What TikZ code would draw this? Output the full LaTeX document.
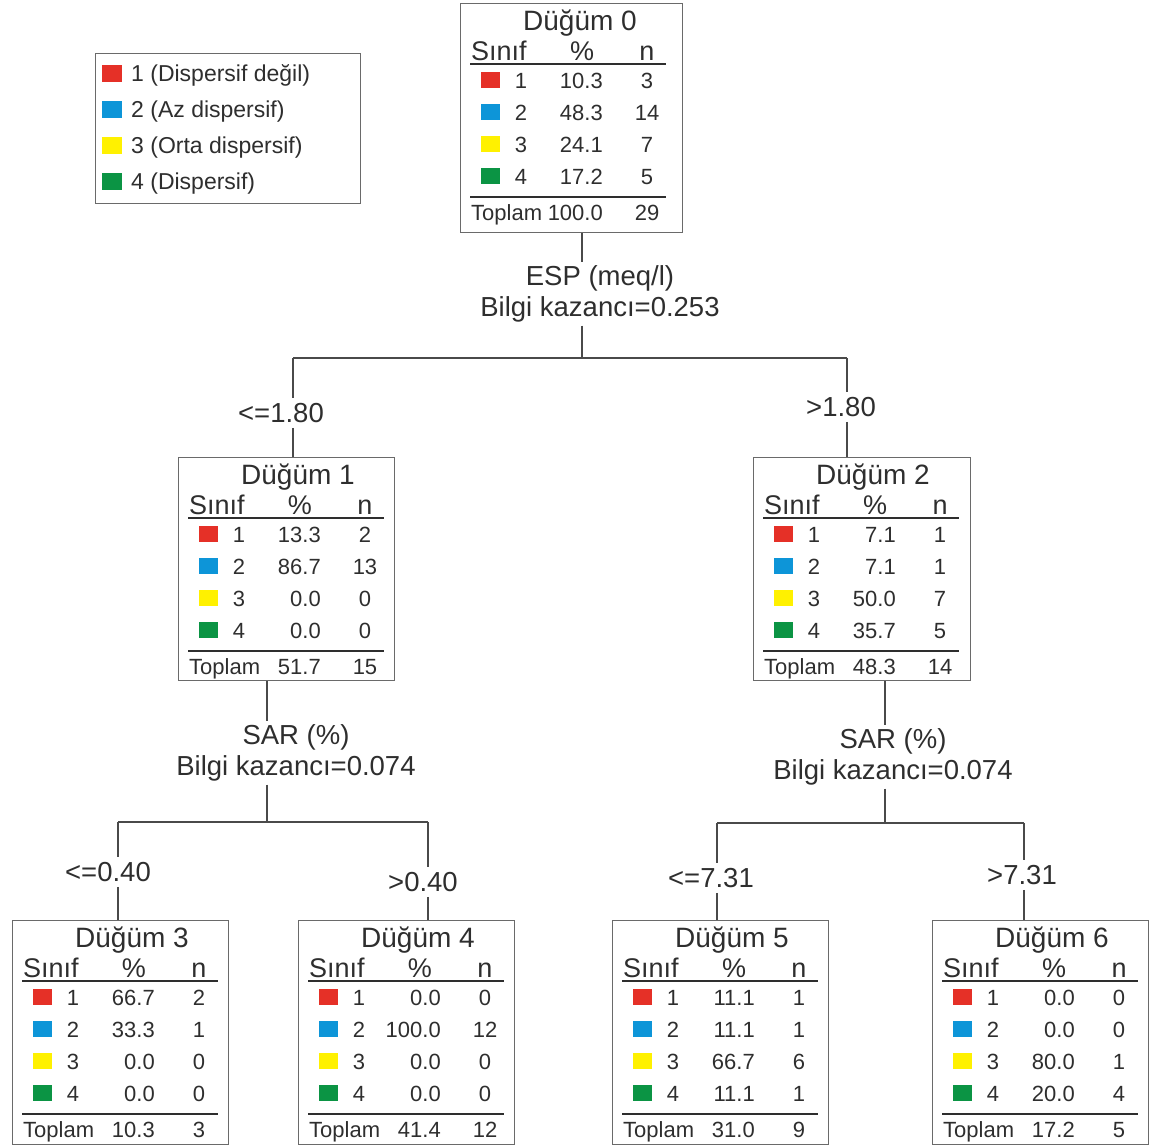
\documentclass[tikz,border=0pt]{standalone}
\usepackage{fontspec}
\setmainfont{Liberation Sans}

\definecolor{txt}{HTML}{2E2E2E}
\definecolor{boxgray}{HTML}{6A6A6A}
\definecolor{linegray}{HTML}{4A4A4A}
\definecolor{cls1}{HTML}{E53027}
\definecolor{cls2}{HTML}{0D95D8}
\definecolor{cls3}{HTML}{FFF100}
\definecolor{cls4}{HTML}{0B9444}

\tikzset{
  boxline/.style={draw=boxgray, line width=1.3pt, inner sep=0pt},
  branch/.style={draw=linegray, line width=1.3pt},
  rule/.style={draw=txt, line width=1.2pt},
  splitlabel/.style={align=center, inner sep=3pt, font=\fontsize{27.5}{31}\selectfont},
  edgelabel/.style={inner sep=5pt, font=\fontsize{27.5}{31}\selectfont},
  titletext/.style={inner sep=1pt, font=\fontsize{28}{32}\selectfont},
  headtext/.style={inner sep=1pt, font=\fontsize{27}{31}\selectfont},
  rowtext/.style={inner sep=1pt, font=\fontsize{22}{26}\selectfont},
  legendtext/.style={inner sep=1pt, font=\fontsize{23}{27}\selectfont},
}

% node box: name, top-left, width, height, number, rows (pct/n), total pct, total n
\newcommand{\dugum}[8]{%
  \node[boxline, anchor=north west, minimum width=#3, minimum height=#4] (#1) at (#2) {};
  \begin{scope}[shift={(#2)}]
    \node[titletext, anchor=base] (#1-title) at (120,27) {Düğüm #5};
    \node[headtext, anchor=base west] (#1-cls) at (10,57) {Sınıf};
    \node[headtext, anchor=base] (#1-pct) at (122,57) {\%};
    \node[headtext, anchor=base] (#1-n) at (187,57) {n};
    \draw[rule] (10,61) -- (206,61);
    \foreach \p/\m [count=\i] in {#6} {
      \pgfmathsetmacro\ry{77+32*(\i-1)}
      \fill[cls\i] (21,\ry-8) rectangle (40,\ry+8);
      \node[rowtext, anchor=base] (#1-k\i) at (61,\ry+8) {\i};
      \node[rowtext, anchor=base east] (#1-p\i) at (144,\ry+8) {\p};
      \node[rowtext, anchor=base] (#1-m\i) at (187,\ry+8) {\m};
    }
    \draw[rule] (10,194) -- (206,194);
    \node[rowtext, anchor=base west] (#1-tot) at (10,217) {Toplam};
    \node[rowtext, anchor=base east] (#1-totp) at (144,217) {#7};
    \node[rowtext, anchor=base] (#1-totn) at (187,217) {#8};
  \end{scope}
}

\begin{document}
\begin{tikzpicture}[x=1pt, y=-1pt, text=txt]
    \useasboundingbox (0,0) rectangle (1152,1146);

    % Legend
    \node[boxline, anchor=north west, minimum width=265pt, minimum height=150pt] (legend) at (95,53) {};
    \foreach \lab [count=\i] in {1 (Dispersif değil), 2 (Az dispersif), 3 (Orta dispersif), 4 (Dispersif)} {
      \pgfmathsetmacro\ly{73+36*(\i-1)}
      \fill[cls\i] (102,\ly-8) rectangle (122,\ly+9);
      \node[legendtext, anchor=base west] (leg\i) at (130,\ly+8) {\lab};
    }

    % Root
    \dugum{n0}{460,3}{222pt}{229pt}{0}{10.3/3,48.3/14,24.1/7,17.2/5}{100.0}{29}

    % ESP split
    \coordinate (j0) at (582,358);
    \coordinate (b1) at (293,358);
    \coordinate (b2) at (847,358);
    \node[splitlabel] (s0) at (600,294) {ESP (meq/l)\\Bilgi kazancı=0.253};
    \draw[branch] (n0.south -| j0) -- (s0.north -| j0);
    \draw[branch] (s0.south -| j0) -- (j0);
    \draw[branch] (b1) -- (b2);

    \node[edgelabel] (e1) at (281,413) {<=1.80};
    \node[edgelabel] (e2) at (841,407) {>1.80};

    \dugum{n1}{178,457}{216pt}{223pt}{1}{13.3/2,86.7/13,0.0/0,0.0/0}{51.7}{15}
    \dugum{n2}{753,457}{217pt}{223pt}{2}{7.1/1,7.1/1,50.0/7,35.7/5}{48.3}{14}

    \draw[branch] (b1) -- (b1 |- e1.north);
    \draw[branch] (e1.south -| b1) -- (n1.north -| b1);
    \draw[branch] (b2) -- (b2 |- e2.north);
    \draw[branch] (e2.south -| b2) -- (n2.north -| b2);

    % SAR split, left
    \coordinate (j1) at (267,822);
    \coordinate (b3) at (118,822);
    \coordinate (b4) at (428,822);
    \node[splitlabel] (s1) at (296,753) {SAR (\%)\\Bilgi kazancı=0.074};
    \draw[branch] (n1.south -| j1) -- (s1.north -| j1);
    \draw[branch] (s1.south -| j1) -- (j1);
    \draw[branch] (b3) -- (b4);

    \node[edgelabel] (e3) at (108,872) {<=0.40};
    \node[edgelabel] (e4) at (423,882) {>0.40};

    % SAR split, right
    \coordinate (j2) at (885,823);
    \coordinate (b5) at (717,823);
    \coordinate (b6) at (1024,823);
    \node[splitlabel] (s2) at (893,757) {SAR (\%)\\Bilgi kazancı=0.074};
    \draw[branch] (n2.south -| j2) -- (s2.north -| j2);
    \draw[branch] (s2.south -| j2) -- (j2);
    \draw[branch] (b5) -- (b6);

    \node[edgelabel] (e5) at (711,878) {<=7.31};
    \node[edgelabel] (e6) at (1022,875) {>7.31};

    % Leaves
    \dugum{n3}{12,920}{216pt}{224pt}{3}{66.7/2,33.3/1,0.0/0,0.0/0}{10.3}{3}
    \dugum{n4}{298,920}{216pt}{224pt}{4}{0.0/0,100.0/12,0.0/0,0.0/0}{41.4}{12}
    \dugum{n5}{612,920}{216pt}{224pt}{5}{11.1/1,11.1/1,66.7/6,11.1/1}{31.0}{9}
    \dugum{n6}{932,920}{216pt}{224pt}{6}{0.0/0,0.0/0,80.0/1,20.0/4}{17.2}{5}

    \draw[branch] (b3) -- (b3 |- e3.north);
    \draw[branch] (e3.south -| b3) -- (n3.north -| b3);
    \draw[branch] (b4) -- (b4 |- e4.north);
    \draw[branch] (e4.south -| b4) -- (n4.north -| b4);
    \draw[branch] (b5) -- (b5 |- e5.north);
    \draw[branch] (e5.south -| b5) -- (n5.north -| b5);
    \draw[branch] (b6) -- (b6 |- e6.north);
    \draw[branch] (e6.south -| b6) -- (n6.north -| b6);
\end{tikzpicture}
\end{document}
